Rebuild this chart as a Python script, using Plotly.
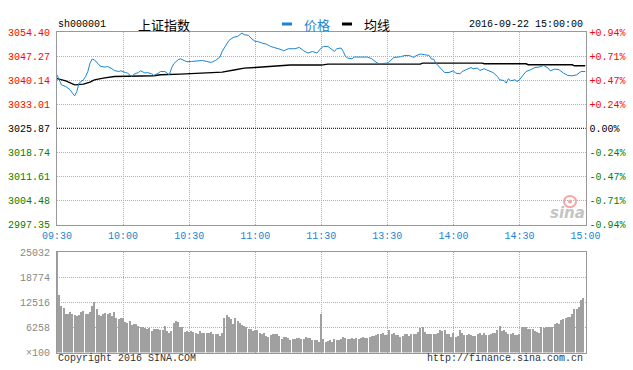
import plotly.graph_objects as go

W, H = 633, 370
PREV_CLOSE = 3025.87
Y_MIN, Y_MAX = 2997.35, 3054.40
VOL_MAX = 25032

time_ticks = [0, 30, 60, 90, 120, 150, 180, 210, 240]
time_labels = ["09:30", "10:00", "10:30", "11:00", "11:30", "13:30", "14:00", "14:30", "15:00"]

price_ticks = [3054.40, 3047.27, 3040.14, 3033.01, 3025.87, 3018.74, 3011.61, 3004.48, 2997.35]
pct_labels = ["+0.94%", "+0.71%", "+0.47%", "+0.24%", "0.00%", "-0.24%", "-0.47%", "-0.71%", "-0.94%"]
vol_ticks = [0, 6258, 12516, 18774, 25032]
vol_labels = ["×100", "6258", "12516", "18774", "25032"]

price_minute = [0, 1, 2, 4, 6, 7, 8, 9, 10, 12, 13, 14, 15, 16, 17, 19, 20, 22, 23, 25, 26, 28, 29, 31, 32,
                34, 35, 37, 38, 40, 41, 43, 44, 46, 47, 49, 50, 51, 52, 53, 55, 56, 58, 59, 61, 63, 66, 68,
                70, 72, 74, 75, 77, 78, 80, 82, 84, 85, 87, 88, 90, 91, 93, 95, 97, 100, 102, 103, 105, 108,
                110, 112, 114, 116, 118, 120, 121, 123, 124, 126, 127, 129, 130, 131, 132, 134, 135, 138,
                141, 143, 144, 146, 148, 150, 151, 153, 156, 158, 160, 162, 163, 165, 167, 169, 170, 171,
                172, 174, 176, 178, 180, 181, 183, 184, 186, 188, 189, 191, 192, 194, 195, 197, 198, 200,
                201, 203, 204, 205, 206, 208, 209, 210, 212, 213, 215, 217, 219, 221, 223, 224, 226, 228,
                230, 232, 234, 236, 238, 240]
price_value = [3041.71, 3040.23, 3038.74, 3038.24, 3037.26, 3036.28, 3035.47, 3036.75, 3039.25, 3040.23,
               3041.21, 3042.69, 3045.19, 3046.38, 3046.17, 3044.69, 3044.18, 3044.00, 3044.18, 3043.50,
               3042.99, 3042.69, 3042.90, 3042.40, 3042.22, 3041.21, 3041.92, 3042.40, 3042.90, 3042.22,
               3042.40, 3042.01, 3041.51, 3042.22, 3042.69, 3042.69, 3042.22, 3041.71, 3043.70, 3044.98,
               3046.17, 3046.47, 3045.87, 3045.58, 3045.67, 3045.87, 3045.96, 3045.67, 3045.37, 3045.96,
               3046.97, 3048.64, 3050.63, 3051.82, 3052.80, 3053.09, 3054.10, 3053.60, 3053.39, 3052.62,
               3051.61, 3051.61, 3051.13, 3050.83, 3050.12, 3049.65, 3049.14, 3048.84, 3049.44, 3049.44,
               3049.82, 3048.84, 3048.16, 3048.64, 3048.16, 3049.65, 3050.12, 3050.12, 3049.65, 3048.64,
               3049.44, 3049.65, 3048.64, 3047.15, 3046.68, 3046.47, 3046.97, 3046.97, 3046.97, 3046.47,
               3045.87, 3044.98, 3044.98, 3045.19, 3045.67, 3046.85, 3047.06, 3047.45, 3047.45, 3046.85,
               3047.36, 3047.86, 3047.66, 3047.45, 3046.38, 3046.38, 3045.19, 3043.70, 3042.40, 3042.40,
               3042.90, 3042.22, 3042.01, 3042.69, 3043.20, 3043.88, 3043.50, 3043.70, 3042.99, 3043.50,
               3043.20, 3042.69, 3042.40, 3041.21, 3040.23, 3040.02, 3039.25, 3040.53, 3039.93, 3040.23,
               3039.72, 3040.23, 3041.71, 3042.69, 3043.20, 3043.88, 3044.00, 3044.48, 3043.70, 3042.90,
               3043.41, 3043.20, 3042.22, 3041.51, 3041.42, 3041.71, 3042.69, 3042.69]

avg_minute = [0, 4, 8, 12, 15, 17, 21, 26, 44, 47, 56, 65, 75, 81, 85, 90, 96, 106, 120, 123, 165, 166,
              193, 194, 213, 214, 234, 235, 240]
avg_value = [3040.60, 3039.90, 3038.74, 3038.95, 3039.54, 3040.23, 3040.73, 3041.21, 3041.42, 3041.71,
             3041.92, 3042.22, 3042.52, 3043.20, 3043.70, 3043.88, 3044.18, 3044.60, 3044.60, 3044.89,
             3044.89, 3045.19, 3045.19, 3044.98, 3044.98, 3044.69, 3044.69, 3044.39, 3044.39]

volume = [26000, 14352, 11682, 11181, 9596, 9596, 10013, 9596, 9345, 9178,
          9345, 10180, 10347, 9596, 9596, 10180, 11598, 12516, 10847, 9345,
          9178, 9596, 9762, 9596, 9762, 9095, 10096, 8678, 8261, 8511,
          8511, 7676, 7426, 7843, 6842, 7009, 7092, 6592, 6258, 6258,
          6008, 5841, 6175, 5424, 5841, 5841, 5841, 5590, 5590, 6592,
          5424, 4923, 5424, 7426, 7843, 7676, 6258, 6258, 5173, 5424,
          5173, 5340, 5006, 4923, 4589, 5340, 4923, 4756, 4756, 4923,
          5173, 4589, 4589, 4589, 4089, 4923, 8511, 9345, 8761, 8261,
          7092, 8678, 7843, 7426, 6842, 6675, 6425, 5841, 5757, 5340,
          5590, 5590, 4923, 4589, 4923, 4172, 3922, 4339, 4589, 4589,
          4589, 4172, 3338, 3755, 3755, 3504, 3087, 3338, 3338, 3504,
          3671, 3338, 3338, 3755, 3504, 3504, 3087, 3087, 3087, 2670,
          9512, 3338, 2503, 2837, 3087, 2503, 3338, 3087, 3087, 3338,
          3755, 3504, 3338, 3338, 3504, 3338, 3504, 3338, 3504, 3755,
          3504, 3671, 3922, 4089, 4089, 4339, 4589, 4506, 4756, 4339,
          4339, 5590, 4506, 4756, 4339, 4339, 3922, 4172, 4589, 4589,
          4089, 4589, 4589, 4589, 5006, 6175, 6258, 5173, 4589, 4506,
          4589, 4589, 4589, 4756, 5590, 5340, 5590, 4589, 4506, 3755,
          4923, 3922, 4089, 5590, 4756, 4339, 4339, 4506, 4339, 4089,
          4089, 4589, 4756, 4339, 4756, 4339, 4339, 4589, 4756, 4756,
          5590, 6592, 5424, 5590, 5006, 4589, 4589, 4756, 4339, 4339,
          4589, 6258, 6258, 6258, 5841, 5841, 5841, 5340, 5173, 4923,
          6258, 6008, 6258, 6258, 6425, 6425, 7009, 7259, 7092, 8094,
          8261, 8678, 8761, 8761, 9596, 10764, 10847, 11264, 13100, 13517]

RED, GREEN, BLACK = "#ff0000", "#008000", "#000000"
BLUE = "#1a85d0"
MONO = "Liberation Mono, DejaVu Sans Mono, monospace"
CJK = "Noto Sans CJK SC, sans-serif"
tick_colors = [RED] * 4 + [BLACK] + [GREEN] * 4
left_text = [f'<span style="color:{c}">{v:.2f}</span>' for v, c in zip(price_ticks, tick_colors)]
right_text = [f'<span style="color:{c}">{t}</span>' for t, c in zip(pct_labels, tick_colors)]


def px(x):
    return x / W


def py(y):
    return 1 - y / H


XD = [px(57), px(585.5)]
PRICE_D = [py(224.5), py(32)]
VOL_D = [py(352.5), py(252)]

GRID = dict(showgrid=True, gridcolor="#b0b0b0", griddash="1px,1px", gridwidth=1,
            showline=True, mirror=True, linecolor="#999999", linewidth=1, zeroline=False,
            fixedrange=True, automargin=False)

fig = go.Figure()
fig.add_trace(go.Bar(x=list(range(len(volume))), y=volume, width=0.5,
                     marker=dict(color="#a0a0a0", line=dict(width=0)),
                     xaxis="x2", yaxis="y3", hoverinfo="skip"))
fig.add_trace(go.Scatter(x=avg_minute, y=avg_value, mode="lines",
                         line=dict(color="#000000", width=1.4), xaxis="x", yaxis="y"))
fig.add_trace(go.Scatter(x=price_minute, y=price_value, mode="lines",
                         line=dict(color=BLUE, width=1), xaxis="x", yaxis="y"))
fig.add_trace(go.Scatter(x=price_minute, y=price_value, mode="lines", opacity=0,
                         line=dict(width=0), xaxis="x", yaxis="y2", hoverinfo="skip"))

fig.update_layout(
    template="none",
    width=W, height=H, margin=dict(l=0, r=0, t=0, b=0, pad=0),
    paper_bgcolor="white", plot_bgcolor="white", showlegend=False, bargap=0,
    xaxis=dict(domain=XD, range=[0, 240], anchor="y", tickmode="array", tickvals=time_ticks,
               ticktext=time_labels, tickfont=dict(family=MONO, size=10, color=BLUE),
               ticks="", ticklabelstandoff=1, **GRID),
    yaxis=dict(domain=PRICE_D, range=[Y_MIN, Y_MAX], anchor="x", tickmode="array",
               tickvals=price_ticks, ticktext=left_text, tickfont=dict(family=MONO, size=10),
               ticks="", ticklabelstandoff=4, **GRID),
    yaxis2=dict(overlaying="y", side="right", anchor="x", range=[Y_MIN, Y_MAX], tickmode="array",
                tickvals=price_ticks, ticktext=right_text, tickfont=dict(family=MONO, size=10),
                ticks="", ticklabelstandoff=3, showgrid=False, zeroline=False, fixedrange=True,
                automargin=False),
    xaxis2=dict(domain=XD, range=[0, 240], anchor="y3", tickmode="array", tickvals=time_ticks,
                showticklabels=False, ticks="", **GRID),
    yaxis3=dict(domain=VOL_D, range=[0, VOL_MAX], anchor="x2", tickmode="array",
                tickvals=vol_ticks, ticktext=vol_labels,
                tickfont=dict(family=MONO, size=10, color="#888888"),
                ticks="", ticklabelstandoff=4, **GRID),
)

# previous close reference line
fig.add_shape(type="line", xref="paper", x0=XD[0], x1=XD[1], yref="y", y0=PREV_CLOSE, y1=PREV_CLOSE,
              line=dict(color="black", width=1, dash="1px,1px"))

# legend marks
fig.add_shape(type="line", xref="paper", yref="paper", x0=px(282), x1=px(292), y0=py(24), y1=py(24),
              line=dict(color=BLUE, width=3))
fig.add_shape(type="line", xref="paper", yref="paper", x0=px(342), x1=px(352), y0=py(24), y1=py(24),
              line=dict(color="black", width=3))

# sina logo eye (decorative)
fig.add_shape(type="circle", xref="paper", yref="paper", x0=px(564), x1=px(576), y0=py(207), y1=py(196),
              line=dict(color="#f4a6a6", width=2), fillcolor="rgba(0,0,0,0)")
fig.add_shape(type="circle", xref="paper", yref="paper", x0=px(568), x1=px(572), y0=py(203.5), y1=py(199.5),
              line=dict(width=0), fillcolor="#f4a6a6")

ann = [
    dict(text="sh000001", x=px(56), y=py(24.5), xanchor="left", font=dict(family=MONO, size=10, color="black")),
    dict(text="上证指数", x=px(164), y=py(24), xanchor="center", font=dict(family=CJK, size=13, color="black")),
    dict(text="价格", x=px(302), y=py(24), xanchor="left", font=dict(family=CJK, size=13, color=BLUE)),
    dict(text="均线", x=px(362), y=py(24), xanchor="left", font=dict(family=CJK, size=13, color="black")),
    dict(text="2016-09-22 15:00:00", x=px(585), y=py(24.5), xanchor="right",
         font=dict(family=MONO, size=10, color="black")),
    dict(text="Copyright 2016 SINA.COM", x=px(56), y=py(358), xanchor="left",
         font=dict(family=MONO, size=10, color="#333333")),
    dict(text="http://finance.sina.com.cn", x=px(585), y=py(358), xanchor="right",
         font=dict(family=MONO, size=10, color="#333333")),
    dict(text="<i><b>sina</b></i>", x=px(567), y=py(213), xanchor="center",
         font=dict(family="DejaVu Sans", size=15, color="#c4c4c4")),
]
for a in ann:
    fig.add_annotation(xref="paper", yref="paper", yanchor="middle", showarrow=False, **a)

fig.write_html("out.html")
